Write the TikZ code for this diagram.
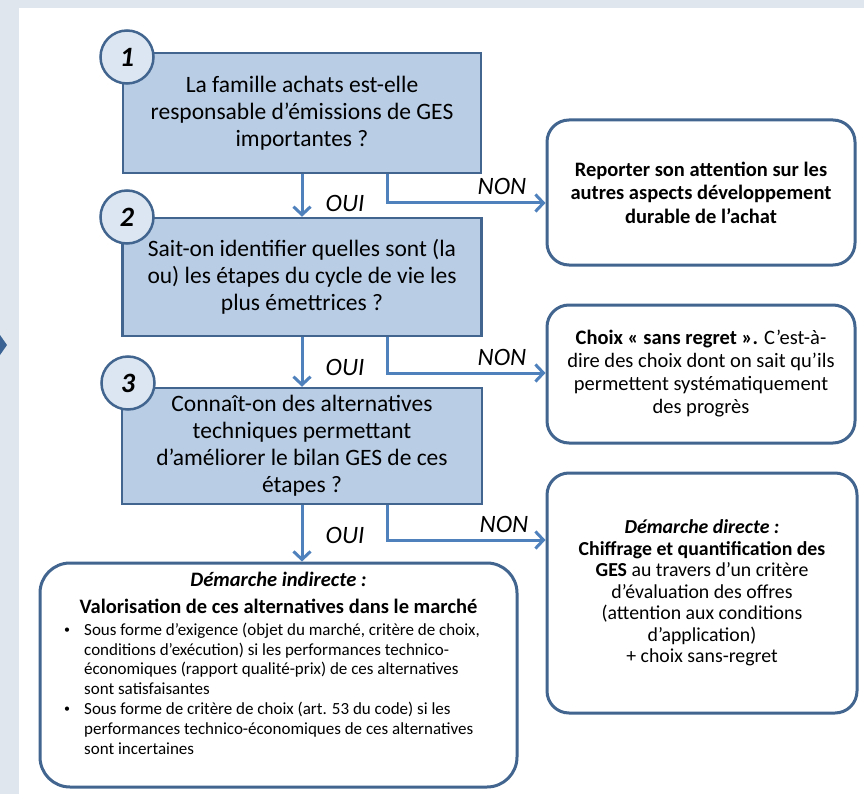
\documentclass[tikz,border=0pt]{standalone}
\usepackage{fontspec}
\setmainfont{Carlito}
\usetikzlibrary{arrows.meta}
\definecolor{bgGrey}{HTML}{DFE6ED}
\definecolor{boxFill}{HTML}{B9CDE5}
\definecolor{boxBorder}{HTML}{41658F}
\definecolor{arrBlue}{HTML}{4F81BD}
\definecolor{circFill}{HTML}{DCE6F2}
\definecolor{triBlue}{HTML}{3B6494}
\newcommand{\mybul}{\makebox[21pt][l]{\hspace{1pt}\raisebox{1.5pt}{\fontsize{12}{12}\selectfont •}}}
\begin{document}
\begin{tikzpicture}[x=1pt,y=-1pt,
  qbox/.style={draw=boxBorder, line width=2.5pt, fill=boxFill, align=center, inner sep=0pt,
    font=\fontsize{23.5}{27}\selectfont},
  rbox/.style={draw=boxBorder, line width=3pt, fill=white, rounded corners=22pt, align=center, inner sep=0pt},
  numcirc/.style={circle, draw=boxBorder, line width=2.5pt, fill=circFill, minimum size=53pt, inner sep=0pt,
    font=\fontsize{28}{28}\selectfont\bfseries\itshape},
  arr/.style={draw=arrBlue, line width=3pt, -{Straight Barb[length=8pt,width=17pt]}},
  lbl/.style={font=\fontsize{25}{25}\selectfont\itshape, anchor=base, inner sep=0pt},
  txt/.style={inner sep=0pt}
]
\useasboundingbox (0,0) rectangle (864,794);
\fill[white] (0,0) rectangle (864,794);
\fill[bgGrey] (0,0) rectangle (864,8);
\fill[bgGrey] (0,0) rectangle (19,794);
\fill[triBlue] (0,335) -- (7,345) -- (0,355) -- cycle;

% question boxes
\node[qbox, minimum width=358pt, minimum height=120pt] (q1) at (302,113)
  {La famille achats est-elle\\responsable d’émissions de GES\\importantes ?};
\node[qbox, minimum width=359pt, minimum height=118pt] (q2) at (302,277)
  {Sait-on identifier quelles sont (la\\ou) les étapes du cycle de vie les\\plus émettrices ?};
\node[qbox, minimum width=360pt, minimum height=116pt] (q3) at (302,446)
  {Connaît-on des alternatives\\techniques permettant\\d’améliorer le bilan GES de ces\\étapes ?};

\node[numcirc] (c1) at (127,57) {1};
\node[numcirc] (c2) at (127,217) {2};
\node[numcirc] (c3) at (128,383) {3};

% result boxes
\node[rbox, minimum width=308pt, minimum height=145pt, font=\fontsize{20.5}{23.5}\selectfont\bfseries] (r1) at (701,192.5)
  {Reporter son attention sur les\\autres aspects développement\\durable de l’achat};
\node[rbox, minimum width=308pt, minimum height=138pt, font=\fontsize{20.5}{23}\selectfont] (r2) at (701,374)
  {\textbf{Choix « sans regret ».} C’est-à-\\dire des choix dont on sait qu’ils\\permettent systématiquement\\des progrès};
\node[rbox, minimum width=310pt, minimum height=240pt, font=\fontsize{19.8}{21.5}\selectfont] (r3) at (702,593)
  {\textbf{\textit{Démarche directe :}}\\\textbf{Chiffrage et quantification des}\\\textbf{GES} au travers d’un critère\\d’évaluation des offres\\(attention aux conditions\\d’application)\\+ choix sans-regret};

\node[rbox, rounded corners=30pt, minimum width=477pt, minimum height=224pt] (bl) at (278.5,675) {};
\node[txt, anchor=base, align=center, font=\fontsize{20.5}{27}\selectfont\bfseries] (blh) at (278.5,613)
  {\textit{Démarche indirecte :}\\Valorisation de ces alternatives dans le marché};
\node[txt, anchor=base west, align=left, font=\fontsize{17}{19.8}\selectfont] (bll) at (63,754)
  {\mybul Sous forme d’exigence (objet du marché, critère de choix,\\
   \hspace*{21pt}conditions d’exécution) si les performances technico-\\
   \hspace*{21pt}économiques (rapport qualité-prix) de ces alternatives\\
   \hspace*{21pt}sont satisfaisantes\\
   \mybul Sous forme de critère de choix (art. 53 du code) si les\\
   \hspace*{21pt}performances technico-économiques de ces alternatives\\
   \hspace*{21pt}sont incertaines};

% connectors
\draw[arr] (q1.south) -- (q2.north);
\draw[arr] (q2.south) -- (q3.north);
\draw[arr] (q3.south) -- (q3.south |- bl.north);
\draw[arr] ([xshift=85pt]q1.south) |- ([yshift=-10.5pt]r1.west);
\draw[arr] ([xshift=85pt]q2.south) |- ([yshift=1pt]r2.west);
\draw[arr] ([xshift=85pt]q3.south) |- ([yshift=53pt]r3.west);

% labels
\node[lbl] (oui1) at (345,212) {OUI};
\node[lbl] (oui2) at (345,375) {OUI};
\node[lbl] (oui3) at (345,543) {OUI};
\node[lbl] (non1) at (502,195) {NON};
\node[lbl] (non2) at (502,365) {NON};
\node[lbl] (non3) at (504,532) {NON};
\end{tikzpicture}
\end{document}
